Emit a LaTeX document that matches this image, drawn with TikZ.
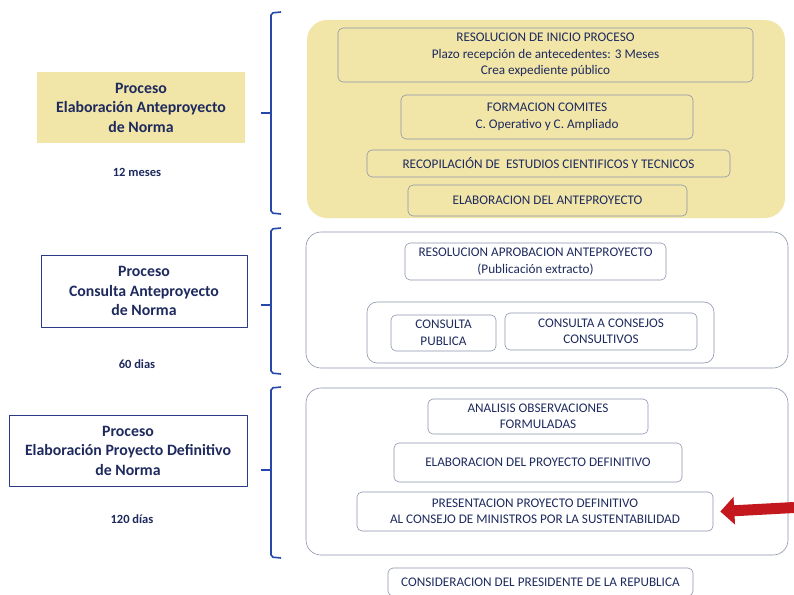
\documentclass[tikz,border=0pt]{standalone}
\usepackage{fontspec}
\setmainfont{Carlito}
\usetikzlibrary{arrows.meta}
\definecolor{inkblue}{HTML}{1E2A5E}
\definecolor{braceblue}{HTML}{2748AA}
\definecolor{framegray}{HTML}{8A93AB}
\definecolor{frameblue}{HTML}{2C3B88}
\definecolor{paleyellow}{HTML}{F1E5A8}
\definecolor{arrowred}{HTML}{C3181D}
\begin{document}
\begin{tikzpicture}[x=1pt, y=-1pt, line join=round,
    task/.style={draw=framegray, line width=.6pt, rounded corners=5pt, align=center,
      inner sep=0pt, text=inkblue, font=\fontsize{13.2}{16.5}\selectfont},
    stage/.style={draw=framegray, line width=.6pt, rounded corners=15pt, inner sep=0pt},
    phase/.style={line width=.8pt, align=center, inner sep=0pt, text=inkblue,
      font=\bfseries\fontsize{15.8}{19.5}\selectfont},
    span/.style={text=inkblue, font=\bfseries\fontsize{12.5}{14}\selectfont},
    bracket/.style={draw=braceblue, line width=1.6pt, rounded corners=2pt}]
  \useasboundingbox (0,0) rectangle (794,594);
  % anteproyecto
  \node[fill=paleyellow, rounded corners=20pt, minimum width=478pt, minimum height=198pt] (stage1) at (546,119) {};
  \node[task, minimum width=415pt, minimum height=54pt] (resinicio) at (545.5,55)
    {RESOLUCION DE INICIO PROCESO\\Plazo recepción de antecedentes: 3 Meses\\Crea expediente público};
  \node[task, minimum width=292pt, minimum height=44pt] (comites) at (547,117)
    {FORMACION COMITES\\C. Operativo y C. Ampliado};
  \node[task, minimum width=363pt, minimum height=27pt] (estudios) at (548.5,163.5)
    {RECOPILACIÓN DE~ ESTUDIOS CIENTIFICOS Y TECNICOS};
  \node[task, minimum width=279pt, minimum height=31pt] (elabante) at (547.5,200.5)
    {ELABORACION DEL ANTEPROYECTO};
  \node[phase, fill=paleyellow, minimum width=208pt, minimum height=71pt] (phase1) at (141,107.5)
    {Proceso\\Elaboración Anteproyecto\\de Norma};
  \node[span] (time1) at (137,172) {12 meses};
  % consulta
  \node[stage, minimum width=482pt, minimum height=136pt] (stage2) at (547,300) {};
  \node[task, minimum width=261pt, minimum height=37pt] (resaprob) at (535.5,261.5)
    {RESOLUCION APROBACION ANTEPROYECTO\\(Publicación extracto)};
  \node[task, rounded corners=10pt, minimum width=347pt, minimum height=61pt] (consultas) at (540.5,332.5) {};
  \node[task, minimum width=105pt, minimum height=36pt] (cpublica) at (443.5,333)
    {CONSULTA\\PUBLICA};
  \node[task, minimum width=192pt, minimum height=37pt] (cconsejos) at (601,331.5)
    {CONSULTA A CONSEJOS\\CONSULTIVOS};
  \node[phase, draw=frameblue, minimum width=206pt, minimum height=72pt] (phase2) at (144,291)
    {Proceso\\Consulta Anteproyecto\\de Norma};
  \node[span] (time2) at (137,364) {60 dias};
  % proyecto definitivo
  \node[stage, minimum width=482pt, minimum height=167pt] (stage3) at (547,471.5) {};
  \node[task, minimum width=220pt, minimum height=35pt] (analisis) at (538,416.5)
    {ANALISIS OBSERVACIONES\\FORMULADAS};
  \node[task, minimum width=288pt, minimum height=39pt] (elabdef) at (538,462.5)
    {ELABORACION DEL PROYECTO DEFINITIVO};
  \node[task, minimum width=356pt, minimum height=39pt] (presenta) at (535,511.5)
    {PRESENTACION PROYECTO DEFINITIVO\\AL CONSEJO DE MINISTROS POR LA SUSTENTABILIDAD};
  \node[task, minimum width=305pt, minimum height=28pt] (presidente) at (540.5,582)
    {CONSIDERACION DEL PRESIDENTE DE LA REPUBLICA};
  \node[phase, draw=frameblue, minimum width=238pt, minimum height=71pt] (phase3) at (128,450.5)
    {Proceso\\Elaboración Proyecto Definitivo\\de Norma};
  \node[span] (time3) at (132,519) {120 días};
  \foreach \top/\mid/\bot in {12/113/213, 228/305/373, 387/470/557}
    \draw[bracket] (281,\top) -- (271,\top+1) -- (271,\bot) -- (281,\bot+1)
      (261,\mid) -- (271,\mid);
  \coordinate (arrowtail) at (794,507.5);
  \draw[arrowred, line width=11pt, -{Triangle[length=14pt, width=27pt]}]
    (arrowtail) -- ([xshift=7pt]presenta.east);
\end{tikzpicture}
\end{document}
